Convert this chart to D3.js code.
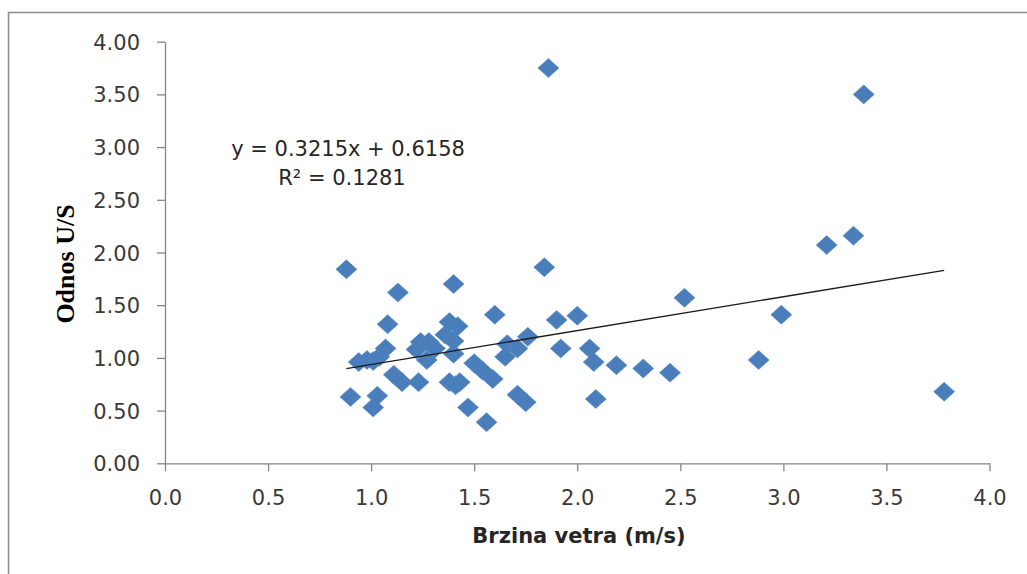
<!DOCTYPE html>
<html>
<head>
<meta charset="utf-8">
<script src="https://cdn.jsdelivr.net/npm/d3@7"></script>
<style>
  html, body { margin: 0; padding: 0; background: #fff; }
  svg { display: block; }
  .axis path, .axis line { stroke: #868686; stroke-width: 1.3; }
  .axis text { font-family: 'DejaVu Sans', sans-serif; font-size: 21px; fill: #3a3a3a; }
</style>
</head>
<body>
<div id="chart"></div>
<script>
// brzina vetra (m/s)
const windSpeed = [
  0.88, 0.90, 0.94, 0.98, 1.01, 1.04, 1.01, 1.03, 1.07, 1.08,
  1.11, 1.15, 1.13, 1.23, 1.22, 1.24, 1.28, 1.27, 1.31, 1.36,
  1.38, 1.40, 1.42, 1.40, 1.40, 1.38, 1.43, 1.41, 1.47, 1.50,
  1.54, 1.59, 1.56, 1.60, 1.65, 1.66, 1.71, 1.76, 1.71, 1.75,
  1.84, 1.86, 1.90, 1.92, 2.00, 2.06, 2.08, 2.09, 2.19, 2.32,
  2.45, 2.52, 2.88, 2.99, 3.21, 3.34, 3.39, 3.78,
]

// odnos U/S
const ratio = [
  1.84, 0.63, 0.96, 0.98, 0.97, 1.01, 0.53, 0.64, 1.09, 1.32,
  0.84, 0.77, 1.62, 0.77, 1.08, 1.15, 1.15, 0.98, 1.09, 1.22,
  1.34, 1.70, 1.30, 1.16, 1.04, 0.77, 0.77, 0.74, 0.53, 0.95,
  0.88, 0.80, 0.39, 1.41, 1.01, 1.13, 1.09, 1.20, 0.65, 0.58,
  1.86, 3.75, 1.36, 1.09, 1.40, 1.09, 0.96, 0.61, 0.93, 0.90,
  0.86, 1.57, 0.98, 1.41, 2.07, 2.16, 3.50, 0.68,
]

const xTicks = [0, 0.5, 1, 1.5, 2, 2.5, 3, 3.5, 4]
const yTicks = [0, 0.5, 1, 1.5, 2, 2.5, 3, 3.5, 4]

// linearni trend
const trendSlope = 0.3215
const trendIntercept = 0.6158
const trendR2 = 0.1281

const size = {width: 1027, height: 574}
const plot = {left: 165, right: 989.5, top: 41.7, bottom: 463.3}

const DATA = windSpeed.map((x, i) => ({x, y: ratio[i]}))

const xScale = d3.scaleLinear().domain([0, 4]).range([plot.left, plot.right])
const yScale = d3.scaleLinear().domain([0, 4]).range([plot.bottom, plot.top])

const SVG = d3.select('#chart')
  .append('svg')
  .attr('width', size.width)
  .attr('height', size.height)

// okvir grafikona
SVG.append('rect')
  .attr('x', 8.5)
  .attr('y', 12.5)
  .attr('width', 1040)
  .attr('height', 600)
  .attr('fill', 'none')
  .attr('stroke', '#8a8a8a')
  .attr('stroke-width', 1.5)

const yAxis = d3.axisLeft(yScale)
  .tickValues(yTicks)
  .tickSizeInner(8)
  .tickSizeOuter(0)
  .tickPadding(17)
  .tickFormat(d3.format('.2f'))

const xAxis = d3.axisBottom(xScale)
  .tickValues(xTicks)
  .tickSizeInner(8)
  .tickSizeOuter(0)
  .tickPadding(18)
  .tickFormat(d3.format('.1f'))

SVG.append('g')
  .attr('class', 'axis axis-y')
  .attr('transform', `translate(${plot.left},0)`)
  .call(yAxis)
  .call(g => g.selectAll('text').attr('dy', '0.36em'))

SVG.append('g')
  .attr('class', 'axis axis-x')
  .attr('transform', `translate(0,${plot.bottom})`)
  .call(xAxis)
  .call(g => g.selectAll('text').attr('dy', '0.74em'))

// markeri (romb)
const halfW = 10.5
const halfH = 9.5
const diamond = d => {
  const cx = xScale(d.x)
  const cy = yScale(d.y)
  return `M${cx},${cy - halfH}L${cx + halfW},${cy}L${cx},${cy + halfH}L${cx - halfW},${cy}Z`
}

SVG.append('g')
  .attr('class', 'marks')
  .selectAll('path')
  .data(DATA)
  .enter()
  .append('path')
  .attr('d', diamond)
  .attr('fill', '#4a7ebb')
  .attr('stroke', '#5a8ac4')
  .attr('stroke-width', 0.6)

// linija trenda
const xExtent = d3.extent(windSpeed)
SVG.append('line')
  .attr('x1', xScale(xExtent[0]))
  .attr('y1', yScale(trendSlope * xExtent[0] + trendIntercept))
  .attr('x2', xScale(xExtent[1]))
  .attr('y2', yScale(trendSlope * xExtent[1] + trendIntercept))
  .attr('stroke', '#1a1a1a')
  .attr('stroke-width', 1.3)

const eq = SVG.append('g')
  .attr('font-family', "'DejaVu Sans', sans-serif")
  .attr('font-size', 21)
  .attr('fill', '#262626')
  .attr('text-anchor', 'middle')

eq.append('text')
  .attr('x', 348)
  .attr('y', 156)
  .text(`y = ${trendSlope}x + ${trendIntercept}`)

eq.append('text')
  .attr('x', 342)
  .attr('y', 185)
  .text(`R² = ${trendR2}`)

// naslovi osa
SVG.append('text')
  .attr('x', 579)
  .attr('y', 543)
  .attr('text-anchor', 'middle')
  .attr('font-family', "'DejaVu Sans', sans-serif")
  .attr('font-weight', 'bold')
  .attr('font-size', 21)
  .attr('fill', '#262626')
  .text('Brzina vetra (m/s)')

SVG.append('text')
  .attr('transform', 'translate(74,264) rotate(-90)')
  .attr('text-anchor', 'middle')
  .attr('font-family', "'Liberation Serif', 'Times New Roman', serif")
  .attr('font-weight', 'bold')
  .attr('font-size', 26)
  .attr('fill', '#000')
  .text('Odnos U/S')
</script>
</body>
</html>
